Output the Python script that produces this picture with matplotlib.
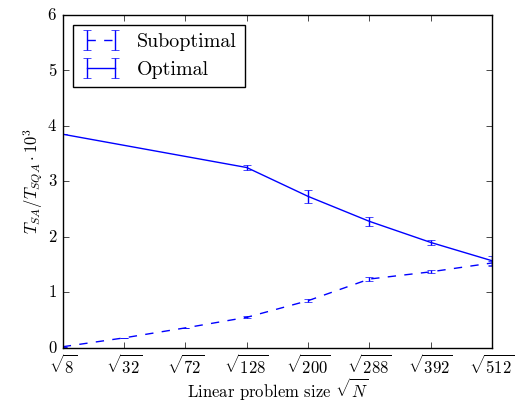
import matplotlib
matplotlib.use('Agg')
import matplotlib.pyplot as plt
import numpy as np

plt.style.use('classic')
plt.rcParams['mathtext.fontset'] = 'cm'
plt.rcParams['font.family'] = 'serif'
plt.rcParams['font.serif'] = ['cmr10', 'DejaVu Serif']
plt.rcParams['axes.formatter.use_mathtext'] = True

# problem sizes N (x axis is sqrt(N))
sizes = [8, 32, 72, 128, 200, 288, 392, 512]
tick_labels = [r'$\sqrt{8}$', r'$\sqrt{32}$', r'$\sqrt{72}$', r'$\sqrt{128}$',
               r'$\sqrt{200}$', r'$\sqrt{288}$', r'$\sqrt{392}$', r'$\sqrt{512}$']

sub_sizes = [8, 32, 72, 128, 200, 288, 392, 512]
sub_vals = [0.02, 0.18, 0.36, 0.55, 0.85, 1.24, 1.37, 1.53]
sub_err = [0.0, 0.0, 0.0, 0.02, 0.03, 0.04, 0.03, 0.03]

opt_sizes = [8, 128, 200, 288, 392, 512]
opt_vals = [3.85, 3.25, 2.73, 2.28, 1.90, 1.57]
opt_err = [0.0, 0.05, 0.12, 0.08, 0.05, 0.09]

fig = plt.figure(figsize=(5.19, 4.04), dpi=100, facecolor='white')
ax = fig.add_axes([0.121, 0.139, 0.827, 0.824])

ax.errorbar(np.sqrt(sub_sizes), sub_vals, yerr=sub_err, color='b', ls='--',
            capsize=3, label='Suboptimal')
ax.errorbar(np.sqrt(opt_sizes), opt_vals, yerr=opt_err, color='b', ls='-',
            capsize=3, label='Optimal')

ax.set_xlim(np.sqrt(8), np.sqrt(512))
ax.set_ylim(0, 6)
ax.set_xticks(np.sqrt(sizes))
ax.set_xticklabels(tick_labels)
ax.tick_params(axis='x', pad=4)
ax.set_yticks(range(7))
ax.set_xlabel(r'Linear problem size $\sqrt{N}$', labelpad=0)
ax.set_ylabel(r'$T_{SA}/T_{SQA}\cdot 10^3$', labelpad=2)
ax.legend(loc='upper left')

fig.savefig('out.png', dpi=100, facecolor='white')
